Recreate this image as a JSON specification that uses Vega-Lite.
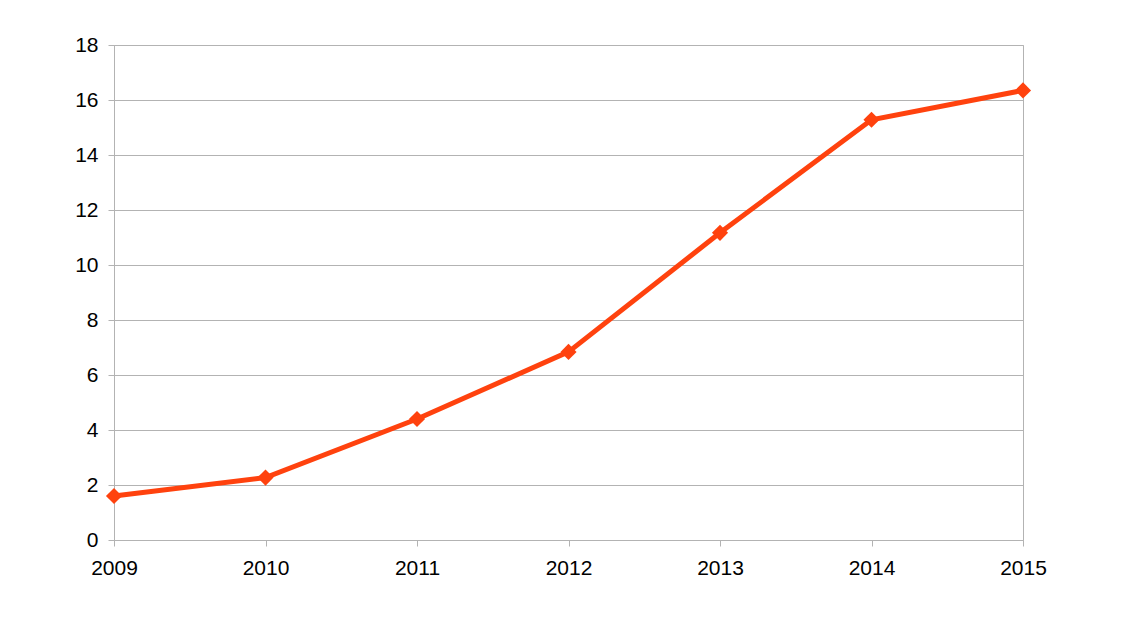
{
  "$schema": "https://vega.github.io/schema/vega-lite/v6.json",
  "autosize": {"type": "none"},
  "width": 909,
  "height": 495,
  "padding": {"left": 114, "top": 45, "right": 101, "bottom": 90},
  "background": "white",
  "config": {
    "view": {"stroke": "#b3b3b3", "strokeWidth": 1},
    "axis": {"labelFont": "Liberation Sans", "labelFontSize": 21, "labelColor": "#000000", "domainColor": "#b3b3b3", "tickColor": "#b3b3b3", "gridColor": "#b3b3b3", "tickSize": 6}
  },
  "data": {"values": [
    {"year": 2009, "value": 1.6},
    {"year": 2010, "value": 2.27},
    {"year": 2011, "value": 4.4},
    {"year": 2012, "value": 6.84},
    {"year": 2013, "value": 11.17},
    {"year": 2014, "value": 15.28},
    {"year": 2015, "value": 16.35}
  ]},
  "encoding": {
    "x": {"field": "year", "type": "quantitative", "scale": {"domain": [2009, 2015], "nice": false, "zero": false},
      "axis": {"values": [2009, 2010, 2011, 2012, 2013, 2014, 2015], "format": "d", "title": null, "grid": false, "labelPadding": 11, "labelFlush": false}},
    "y": {"field": "value", "type": "quantitative", "scale": {"domain": [0, 18], "nice": false},
      "axis": {"values": [0, 2, 4, 6, 8, 10, 12, 14, 16, 18], "title": null, "grid": true, "labelPadding": 10, "domain": true}}
  },
  "layer": [
    {"mark": {"type": "line", "color": "#ff420e", "strokeWidth": 5}},
    {"mark": {"type": "point", "shape": "diamond", "filled": true, "color": "#ff420e", "size": 260, "opacity": 1}}
  ]
}
